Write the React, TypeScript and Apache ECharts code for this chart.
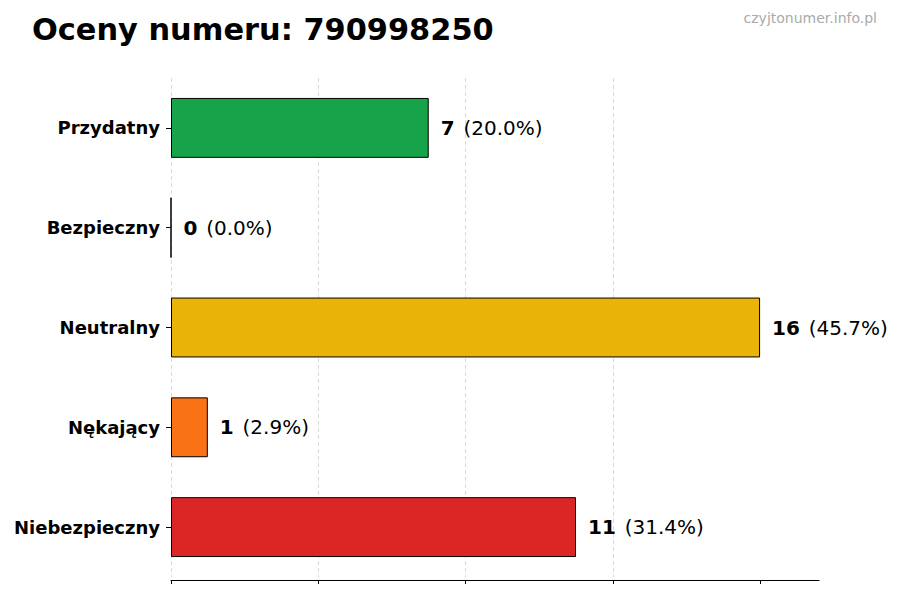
import React, { useEffect, useRef } from 'react';
import * as echarts from 'echarts';

const categories = ['Przydatny', 'Bezpieczny', 'Neutralny', 'Nękający', 'Niebezpieczny'];
const counts = [7, 0, 16, 1, 11];
const barColors = ['#16a34a', '#6b7280', '#eab308', '#f97316', '#dc2626'];
const xTicks = [0, 4, 8, 12, 16];

const total = counts.reduce((a, b) => a + b, 0);

const App: React.FC = () => {
  const chartRef = useRef<HTMLDivElement>(null);

  useEffect(() => {
    if (!chartRef.current) return;
    const chart = echarts.init(chartRef.current, undefined, { renderer: 'svg' });

    const font = 'DejaVu Sans';
    chart.setOption({
      animation: false,
      textStyle: { fontFamily: font },
      title: [
        {
          text: 'Oceny numeru: 790998250',
          left: 27,
          top: 9,
          textStyle: { fontFamily: font, fontSize: 30.4, fontWeight: 'bold', color: '#000' }
        },
        {
          text: 'czyjtonumer.info.pl',
          right: 18,
          top: 6,
          textStyle: { fontFamily: font, fontSize: 14, fontWeight: 'normal', color: '#aaaaaa' }
        }
      ],
      grid: { left: 171, right: 81, top: 78, bottom: 23, containLabel: false },
      xAxis: {
        type: 'value',
        min: 0,
        max: 17.6,
        interval: 4,
        offset: 3,
        axisLine: { show: true, lineStyle: { color: '#000', width: 1.2 } },
        axisTick: { show: true, length: 4, customValues: xTicks, lineStyle: { color: '#000' } },
        axisLabel: { show: false },
        splitLine: {
          show: true,
          showMaxLine: false,
          lineStyle: { color: '#d0d0d0', type: [4, 3], width: 0.8 }
        }
      },
      yAxis: {
        type: 'category',
        data: categories,
        inverse: true,
        axisLine: { show: false },
        axisTick: { show: true, length: 5, alignWithLabel: true, lineStyle: { color: '#000' } },
        axisLabel: {
          margin: 11,
          fontFamily: font,
          fontSize: 18,
          fontWeight: 'bold',
          color: '#000'
        }
      },
      series: [
        {
          type: 'bar',
          barWidth: '60%',
          data: counts.map((v, i) => ({
            value: v,
            itemStyle: { color: barColors[i], borderColor: '#000', borderWidth: 1 }
          })),
          label: {
            show: true,
            position: 'right',
            distance: 12,
            formatter: (p: any) =>
              `{b|${p.value}} {n|(${((p.value / total) * 100).toFixed(1)}%)}`,
            rich: {
              b: { fontFamily: font, fontSize: 20, fontWeight: 'bold', color: '#000', padding: [0, 5, 0, 0] },
              n: { fontFamily: font, fontSize: 20, color: '#000' }
            }
          }
        }
      ]
    });

    return () => {
      chart.dispose();
    };
  }, []);

  return (
    <div
      ref={chartRef}
      style={{ position: 'fixed', left: 0, top: 0, width: 900, height: 600, background: '#fff' }}
    />
  );
};

export default App;
